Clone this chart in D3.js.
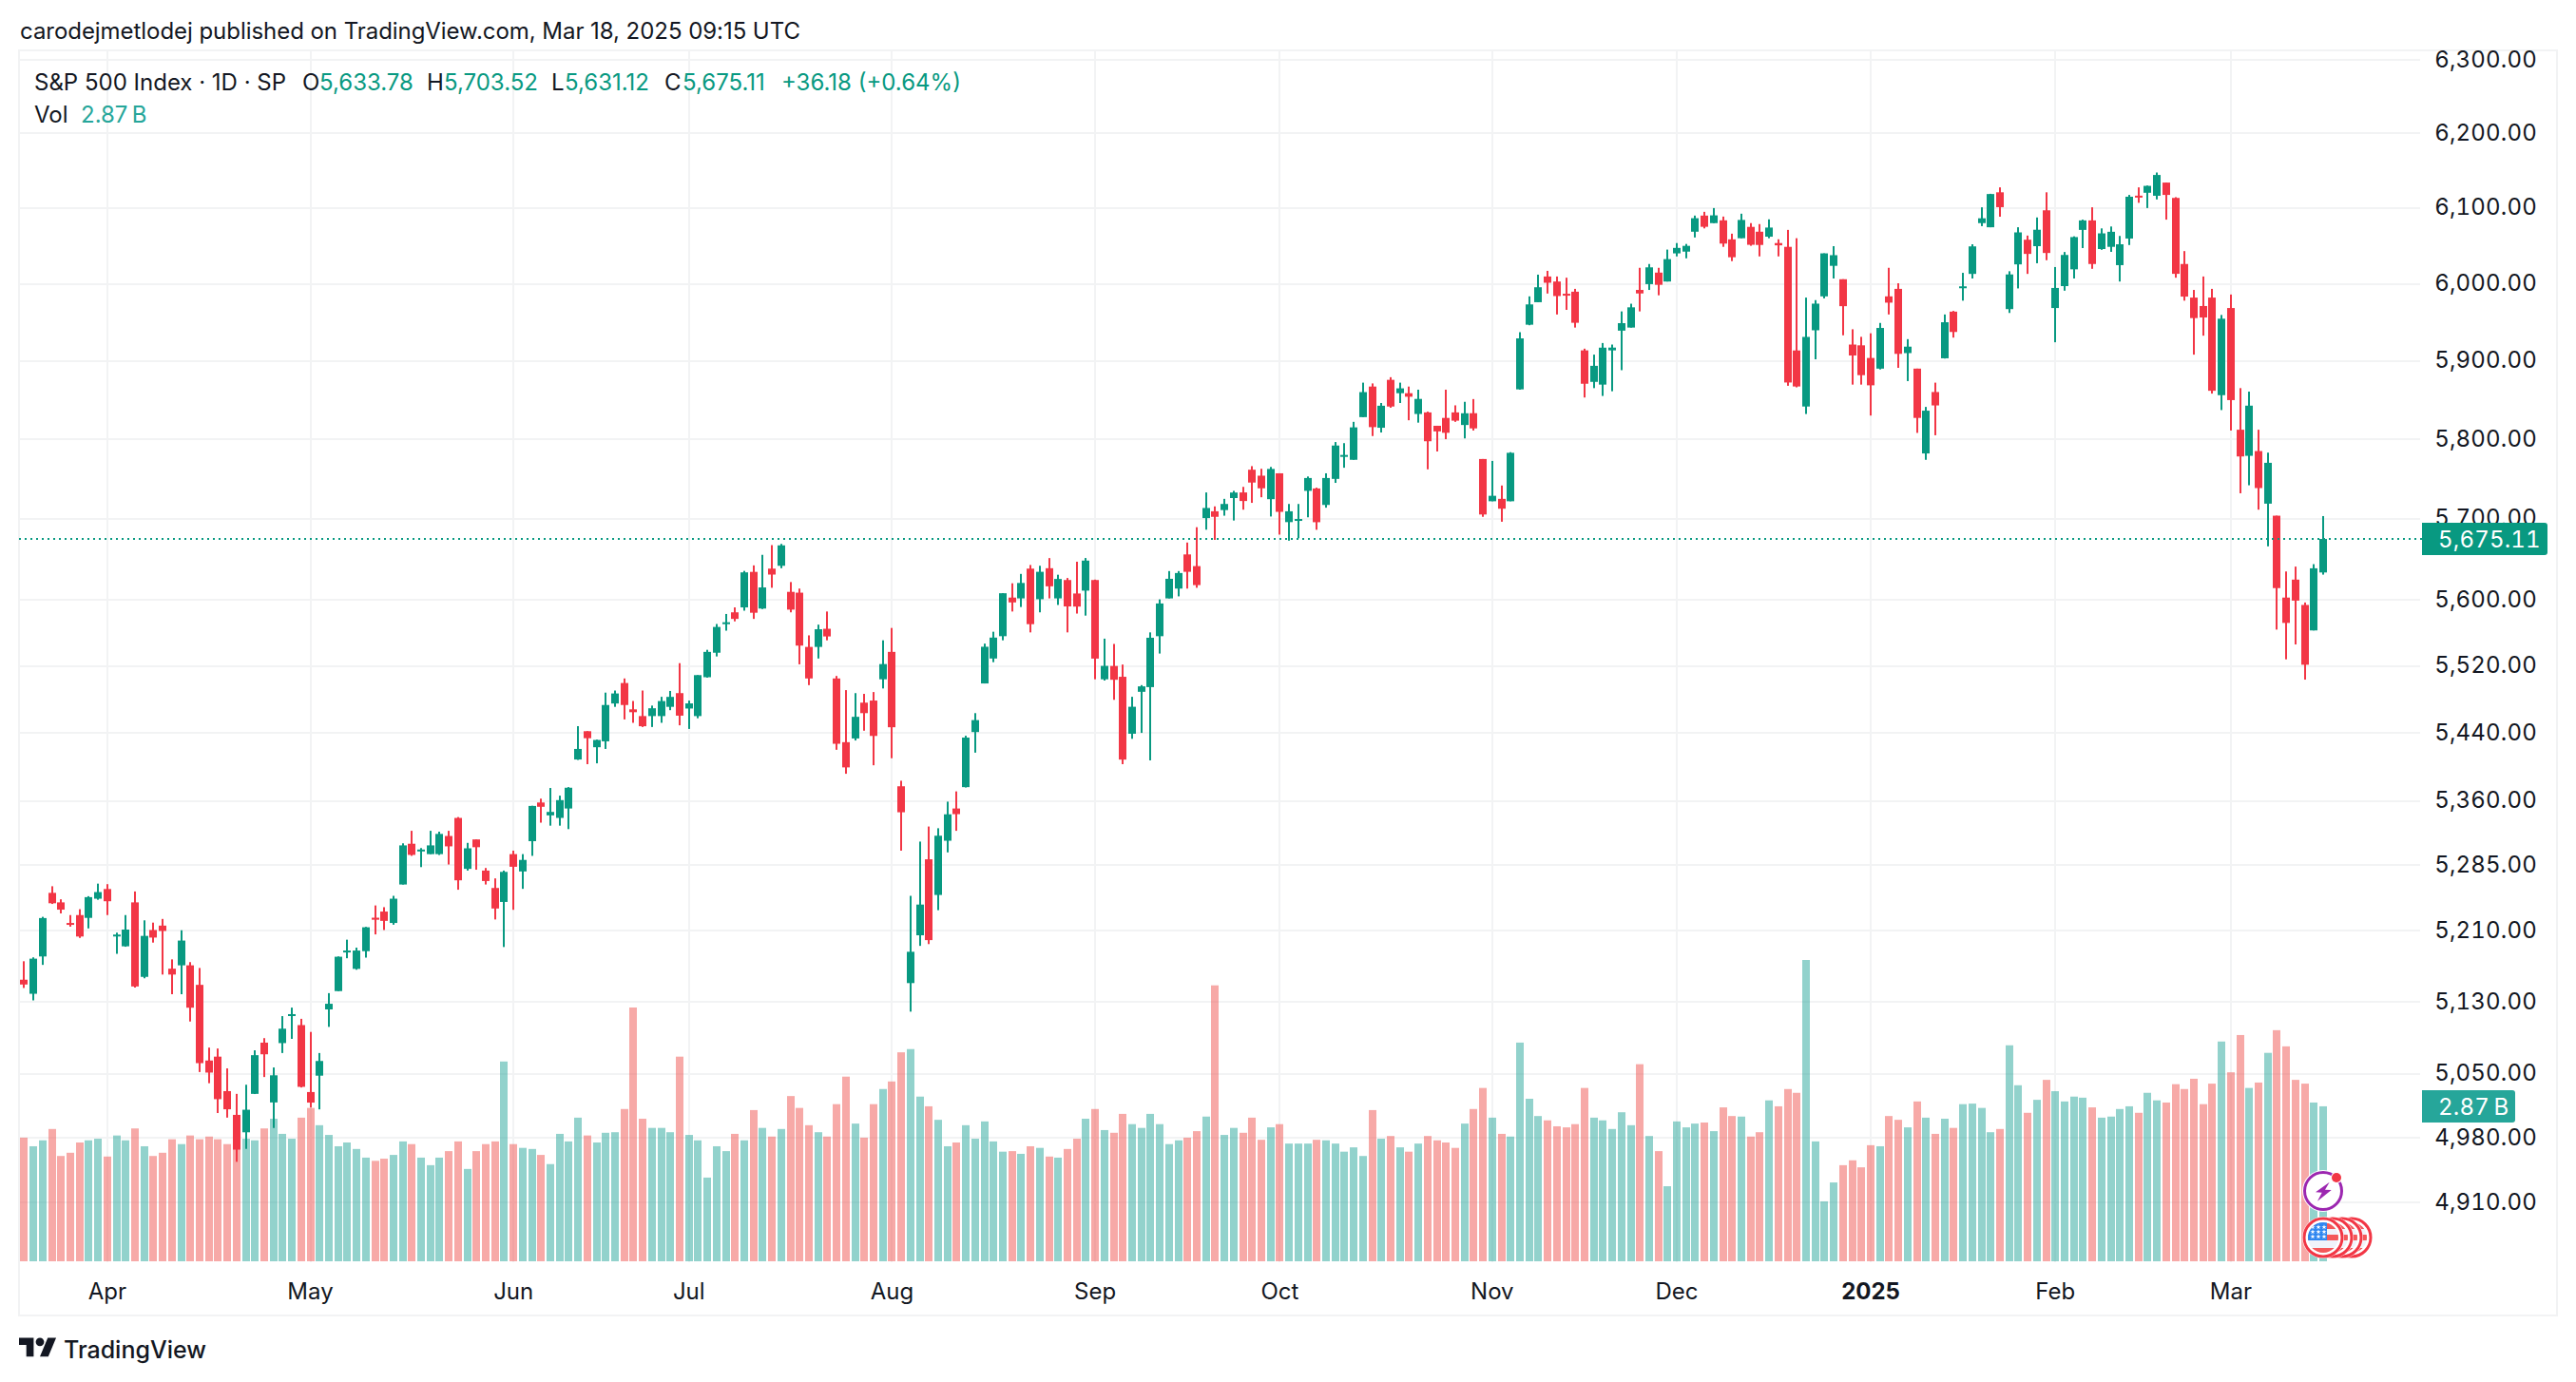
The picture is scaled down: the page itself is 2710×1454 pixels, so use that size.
<!DOCTYPE html>
<html>
<head>
<meta charset="utf-8">
<script src="https://d3js.org/d3.v7.min.js"></script>
<style>
html,body{margin:0;padding:0;background:#fff}
svg{display:block}
text{font-family:Inter,"Noto Sans",sans-serif}
.tnum{font-feature-settings:"tnum" 1;font-variant-numeric:tabular-nums}
</style>
</head>
<body>
<svg id="chart" width="2710" height="1454"></svg>
<script>
// daily candles, 18 Mar 2024 .. 17 Mar 2025
const opens = [5154.8,5139,5181,5253.4,5242.5,5219,5228,5224.8,5246.7,5257.8,5204.3,5192.5,5242.5,5158,5211,5216,5167.2,5171,5171,5149,5064.7,5069,5031,5005,4986,5028,5084.5,5018.6,5084,5115,5104,5030,5048,5121.5,5142,5187,5167,5187,5225,5232,5219,5263,5310,5302.5,5298,5298,5319,5340,5281,5315,5279,5259,5243,5298,5278,5313,5358,5343,5340,5351,5408.5,5442,5423,5430,5475,5499.5,5468,5460,5460,5460,5471,5487.4,5469,5460,5506.5,5536,5571.5,5585,5591,5634.5,5589.6,5638.5,5642,5610,5609,5543,5543,5565,5505,5429,5433.4,5476,5478.5,5504,5537,5377,5151,5205,5292,5251,5313.5,5351,5376,5441,5499,5529,5556,5603,5602,5638.5,5601,5639,5602,5624.5,5608,5611.5,5624.5,5504,5520,5507,5439,5489,5494.6,5556,5602,5614,5656,5641.6,5701,5709.5,5711,5726,5733,5761.5,5754,5724.6,5757,5696,5698,5735,5738,5717.4,5750,5778.5,5774,5828,5867,5814.5,5875.6,5858.5,5858.5,5832,5834,5817,5827,5834,5818,5833,5775,5722,5725,5722,5863.4,5946.7,5976,6009.6,6003,5987,5989.7,5913.5,5873,5869.5,5913.5,5939,5943,5992,5999.6,6014.7,6003,6040,6042.3,6068.6,6090,6080,6083.7,6058.5,6060,6075,6068.6,6062,6053.6,6048.6,5913.4,5841.5,5939.5,5983.6,6023.6,6006,5921,5920,5903.7,5890,5983.6,5993.4,5910,5890,5782,5860,5903.3,5963.7,5996,6013,6080,6074.5,6121,5967,6025.5,6058,6049.5,6097,5968.4,5997,6019,6071,6083.6,6045.7,6048.6,6024.5,6059.6,6116.5,6120.4,6116.4,6134,6113.5,6026,5982,5971,5982,5856,5968.4,5812,5779,5785,5719,5704,5603,5625,5594,5563,5633.78];
const highs = [5175.6,5180,5226,5261,5246,5228,5234.7,5249.6,5264,5263.4,5208,5228,5255,5222,5219.4,5223.6,5177.7,5210.7,5174.6,5168,5079,5078,5056,5028,5038,5076,5089.5,5057,5114,5123.5,5111,5096.4,5073,5139.7,5181,5200,5191,5214.5,5239,5237,5250,5310.5,5325,5305,5325,5324,5325,5341,5311,5315,5282,5270,5279,5302,5298,5354.2,5362.5,5375,5366,5376,5448,5442,5432,5488,5490.5,5505,5478,5490.5,5472.5,5483,5490,5523.4,5478.5,5509,5539.5,5570.8,5583,5591,5635.7,5642.5,5655.5,5667.5,5669,5622,5614,5557,5570,5586,5508,5491,5487.4,5486.5,5488.7,5551,5566,5383.5,5250,5312.5,5330,5328,5359,5371,5436.6,5463.5,5547,5561.4,5608.4,5620.5,5632,5643,5642,5651.5,5631,5627,5647,5651.6,5625,5553,5546.6,5521.7,5483,5497,5560.6,5600.8,5635.5,5635.5,5670.7,5689.7,5733,5715.6,5725,5735,5740,5766,5762.7,5765,5757,5718.6,5718.6,5753,5739,5757,5796.4,5795,5822,5872,5871,5846,5879,5872,5867,5863,5835,5817,5863,5843,5847.5,5851,5775,5772.6,5741.7,5783.6,5937,5983.6,6012,6017,6009.6,6008,5993.4,5915.7,5908,5923,5921,5964,5974,6021,6026,6021,6045,6053.6,6052.4,6090,6095,6100,6088.7,6066,6092.5,6080,6078.7,6085,6058.6,6071,6060,5982,5978.7,6040,6049.5,6006,5940.8,5931,5935.6,5949,6021,6000.7,5928,5890,5841,5872,5960,5964.6,6014.4,6052,6101,6119,6127.6,6016.5,6074.5,6063.5,6087.5,6121,6022,6041.8,6062.5,6084.6,6101,6073,6075.5,6063,6117.5,6127.6,6130,6147.5,6134,6114.5,6043,5992,6009.6,5993.4,5959.4,5986,5865,5860.5,5812,5783,5704,5635,5641,5597,5644,5703.52];
const lows = [5145.5,5131.6,5171.5,5240.7,5229.9,5214.8,5202,5212.8,5245.5,5228,5184,5192,5146,5156.4,5196.7,5160.6,5138.5,5138.5,5108,5052,5039.7,5007,5002,4954,4968,5027.8,5046.5,4990.7,5073,5088.7,5035,5013,5011,5102,5142,5179,5166,5179.7,5206,5211,5217,5263,5296,5283,5298,5297,5286,5257,5279,5280,5263,5223,5191.7,5234,5258,5296,5334.5,5331,5331,5327,5408,5403,5404,5421,5471,5456,5452,5447,5447,5452,5467,5449,5444.7,5457.4,5506,5531.5,5562.7,5574,5587,5577,5589,5615,5639,5585,5522,5497,5529,5551,5420,5391.7,5431,5442.6,5401.7,5493,5410,5302,5119,5193,5195,5233.6,5300,5325,5375.6,5416.6,5499,5524.6,5551,5586,5591.5,5560.6,5585,5602,5594,5560.6,5583.5,5581,5504,5502.5,5479.4,5403,5433,5440,5407.5,5535,5602,5604.5,5614,5615,5686.6,5674,5704,5698,5711.5,5720,5727,5703,5680.5,5673,5676,5702,5686.5,5714,5745,5764,5774,5828,5804,5808.5,5840,5846,5824,5821,5762,5784.5,5800,5822,5801,5811,5702.6,5722,5696.5,5722,5863,5946,5976,5987.3,5960,5966,5943,5853,5865,5855,5861,5888,5943,5964,5992,5985,6003,6036,6033.5,6061,6073,6080,6048.6,6029.8,6060,6050,6036,6060,6036,5868,5866,5832,5902,5981,6007,5933,5869.5,5869.5,5830,5889,5960,5891,5874,5808,5774,5805,5903,5930,5978,6007,6076,6074.5,6088.5,5962,5994,6013,6027,6031,5924,5991,6007,6047,6019.7,6044.7,6042,6003,6051,6107,6100,6111.5,6084.6,6008,5978,5908,5932.5,5858,5837,5811,5732,5742,5711.5,5666,5564,5528,5546,5503.6,5563,5631.12];
const closes = [5149.4,5178.5,5224.6,5241.5,5234.2,5218.2,5203.6,5248.5,5254.3,5243.8,5205.8,5211.5,5147.2,5204.3,5202.4,5209.9,5160.6,5199,5123.4,5061.8,5051.4,5022.2,5011.1,4967.2,5010.6,5070.6,5071.6,5048.4,5100,5116.2,5035.7,5018.4,5064.2,5127.8,5180.7,5187.7,5187.7,5214.1,5222.7,5221.4,5246.7,5308.1,5297.1,5303.3,5308.1,5321.4,5307,5267.8,5304.7,5306,5267,5235.5,5277.5,5283.4,5291.3,5354,5353,5347,5360.8,5375.3,5421,5433.7,5431.6,5473.2,5487,5473.2,5464.6,5447.9,5469.3,5477.9,5482.9,5460.5,5475.1,5509,5537,5567.2,5572.9,5577,5633.9,5584.5,5615.4,5631.2,5667.2,5588.3,5544.6,5505,5564.4,5555.7,5427.1,5399.2,5459.1,5463.5,5436.4,5522.3,5446.7,5346.6,5186.3,5240,5199.5,5319.3,5344.2,5344.4,5434.4,5455.2,5543.2,5554.3,5608.3,5597.1,5620.9,5570.6,5634.6,5616.8,5625.8,5592.2,5592,5648.4,5528.9,5520.1,5503.4,5408.4,5471.1,5495.5,5554.1,5595.8,5626,5633.1,5634.6,5618.3,5713.6,5702.6,5718.6,5732.9,5722.3,5745.4,5738.2,5762.5,5708.8,5709.5,5699.9,5751.1,5695.9,5751.1,5792,5780.1,5815,5859.9,5815.3,5842.5,5841.5,5864.7,5854,5851.2,5797.4,5809.9,5808.1,5823.5,5832.9,5813.7,5705.5,5728.8,5712.7,5782.8,5929,5973.1,5995.5,6001.4,5984,5985.4,5949.2,5870.6,5893.6,5917,5917.1,5948.7,5969.3,5987.4,6021.6,5998.7,6032.4,6047.2,6049.9,6086.5,6075.1,6090.3,6052.9,6034.9,6084.2,6051.3,6051.1,6074.1,6050.6,5872.2,5867.1,5930.9,5974.1,6040,6037.6,5970.8,5906.9,5881.6,5868.6,5942.5,5975.4,5909,5918.3,5827,5836.2,5842.9,5949.9,5937.3,5996.7,6049.2,6086.4,6118.7,6101.2,6012.3,6067.7,6039.3,6071.2,6040.5,5994.6,6037.9,6061.5,6083.6,6026,6066.4,6068.5,6052,6115.1,6114.6,6129.6,6144.2,6117.5,6013.1,5983.3,5955.3,5956.1,5861.6,5954.5,5849.7,5778.2,5842.6,5738.5,5770.2,5614.6,5572.1,5599.3,5521.5,5638.9,5675.11];
// volume in billions
const volumes = [2.29,2.13,2.24,2.45,1.95,2.01,2.20,2.24,2.27,1.94,2.33,2.24,2.46,2.13,1.95,2.01,2.26,2.17,2.33,2.26,2.31,2.26,2.17,2.28,2.27,2.24,2.46,2.64,2.36,2.27,2.66,2.84,2.52,2.34,2.13,2.20,2.08,1.92,1.86,1.90,1.97,2.22,2.17,1.92,1.78,1.92,2.04,2.22,1.71,2.04,2.17,2.22,3.70,2.17,2.10,2.08,1.97,1.80,2.36,2.22,2.66,2.33,2.20,2.38,2.39,2.82,4.70,2.64,2.47,2.47,2.39,3.79,2.34,2.24,1.55,2.13,2.04,2.36,2.24,2.80,2.47,2.31,2.45,3.06,2.84,2.52,2.39,2.31,2.91,3.42,2.55,2.29,2.91,3.19,3.33,3.87,3.93,3.05,2.87,2.62,2.13,2.20,2.52,2.27,2.59,2.22,2.03,2.04,1.99,2.13,2.10,1.94,1.92,2.08,2.27,2.64,2.82,2.43,2.38,2.73,2.54,2.47,2.73,2.54,2.17,2.24,2.29,2.41,2.68,5.11,2.34,2.47,2.38,2.66,2.25,2.48,2.54,2.18,2.18,2.18,2.25,2.24,2.18,2.03,2.11,1.95,2.80,2.27,2.32,2.11,2.03,2.18,2.32,2.24,2.20,2.10,2.55,2.82,3.21,2.66,2.36,2.31,4.05,3.01,2.69,2.61,2.50,2.48,2.54,3.21,2.66,2.61,2.45,2.76,2.52,3.65,2.32,2.04,1.39,2.59,2.48,2.55,2.57,2.41,2.85,2.69,2.68,2.31,2.39,2.98,2.87,3.19,3.12,5.58,2.22,1.11,1.46,1.78,1.87,1.74,2.15,2.13,2.69,2.62,2.48,2.96,2.66,2.36,2.64,2.47,2.91,2.92,2.84,2.39,2.45,4.00,3.26,2.75,2.99,3.36,3.15,2.96,3.05,3.03,2.85,2.66,2.68,2.82,2.87,2.75,3.12,2.98,2.94,3.28,3.19,3.38,2.91,3.29,4.07,3.50,4.19,3.21,3.31,3.86,4.28,3.98,3.36,3.29,2.94,2.87];

const monthLabels = ["Apr","May","Jun","Jul","Aug","Sep","Oct","Nov","Dec","2025","Feb","Mar"];
const monthIndex = [9,31,53,72,94,116,136,159,179,200,220,239];
const priceTicks = [6300,6200,6100,6000,5900,5800,5700,5600,5520,5440,5360,5285,5210,5130,5050,4980,4910];

const lastClose = 5675.11, lastVolume = 2.87;

const green = "#089981", red = "#F23645", gridColor = "#F2F3F4", ink = "#131722";
const paneL = 20, paneT = 53, paneR = 2546, paneB = 1328, frameR = 2690, frameB = 1384;

const x = d3.scaleLinear().domain([0, 249]).range([25.4, 2444]);
const y = d3.scaleLog().domain([6100, 5130]).range([218.9, 1054]);
const yVol = d3.scaleLinear().domain([0, 5.58]).range([1327, 1010]);
const fmtPrice = d3.format(",.2f");

const svg = d3.select("#chart");

// frame
svg.append("path")
	.attr("d", `M${paneL} ${paneT}H${frameR}V${frameB}H${paneL}Z`)
	.attr("fill", "none").attr("stroke", gridColor).attr("stroke-width", 2);

// grid
const grid = svg.append("g").attr("stroke", gridColor).attr("stroke-width", 2);
grid.selectAll(".h").data(priceTicks).join("line")
	.attr("x1", paneL).attr("x2", paneR)
	.attr("y1", d => Math.round(y(d))).attr("y2", d => Math.round(y(d)));
grid.selectAll(".v").data(monthIndex).join("line")
	.attr("x1", d => Math.round(x(d))).attr("x2", d => Math.round(x(d)))
	.attr("y1", paneT).attr("y2", paneB);

// volume bars
svg.append("g").selectAll("rect").data(volumes).join("rect")
	.attr("x", (d, i) => Math.round(x(i) - 4))
	.attr("width", 8)
	.attr("y", d => yVol(d))
	.attr("height", d => yVol(0) - yVol(d))
	.attr("fill", (d, i) => closes[i] >= opens[i] ? "rgba(38,166,154,.5)" : "rgba(239,83,80,.5)");

// candles
const candles = svg.append("g").selectAll("g").data(closes).join("g")
	.attr("fill", (d, i) => d >= opens[i] ? green : red);
candles.append("rect")
	.attr("x", (d, i) => Math.round(x(i)) - 1)
	.attr("width", 2)
	.attr("y", (d, i) => y(highs[i]))
	.attr("height", (d, i) => y(lows[i]) - y(highs[i]));
candles.append("rect")
	.attr("x", (d, i) => Math.round(x(i)) - 4)
	.attr("width", 8)
	.attr("y", (d, i) => y(Math.max(d, opens[i])))
	.attr("height", (d, i) => Math.max(2, Math.abs(y(d) - y(opens[i]))));

// last price line
svg.append("line")
	.attr("x1", paneL).attr("x2", paneR + 2)
	.attr("y1", y(lastClose)).attr("y2", y(lastClose))
	.attr("stroke", green).attr("stroke-width", 2).attr("stroke-dasharray", "2 4");

// price axis
svg.append("g").selectAll("text").data(priceTicks).join("text")
	.attr("class", "tnum")
	.attr("x", 2669).attr("y", d => y(d) - 1)
	.attr("text-anchor", "end").attr("dominant-baseline", "central")
	.attr("font-size", 24).attr("letter-spacing", 0.2).attr("fill", ink)
	.text(d => fmtPrice(d));

// time axis
svg.append("g").selectAll("text").data(monthLabels).join("text")
	.attr("x", (d, i) => x(monthIndex[i])).attr("y", 1358)
	.attr("text-anchor", "middle").attr("dominant-baseline", "central")
	.attr("font-size", 24).attr("fill", ink)
	.attr("font-weight", d => d == "2025" ? 700 : 400)
	.text(d => d);

// value tags
function tag(x0, x1, cy, h, color, label) {
	svg.append("path")
		.attr("d", `M${x0} ${cy - h / 2}H${x1 - 3}q3 0 3 3V${cy + h / 2 - 3}q0 3 -3 3H${x0}Z`)
		.attr("fill", color);
	svg.append("text").attr("class", "tnum").attr("x", 2565).attr("y", cy)
		.attr("dominant-baseline", "central").attr("font-size", 24).attr("letter-spacing", 0.2)
		.attr("fill", "#fff").text(label);
}
tag(2548, 2680, y(lastClose), 34, green, fmtPrice(lastClose));
tag(2548, 2646, 1164, 34, "#26A69A", lastVolume + "\u2009B");

// purple news badge
const badge = svg.append("g").attr("transform", "translate(2444,1253)");
badge.append("circle").attr("r", 22).attr("fill", "#fff");
badge.append("circle").attr("r", 19.5).attr("fill", "#fff").attr("stroke", "#9C27B0").attr("stroke-width", 3);
badge.append("path").attr("d", "M6.7 -9.3L-8 1.3L-1.3 1.7L-6 10.7L8.7 -1L2 -1.3Z").attr("fill", "#9C27B0");
badge.append("circle").attr("cx", 14).attr("cy", -14).attr("r", 6).attr("fill", "#fff");
badge.append("circle").attr("cx", 14).attr("cy", -14).attr("r", 5).attr("fill", red);

// US flag event coins, drawn from the back to the front
const coinCenters = [2474, 2464, 2454, 2444];
const stripeTops = [-15, -3, 11];
const defs = svg.append("defs");
defs.append("clipPath").attr("id", "coinClip").append("circle").attr("r", 16);
coinCenters.forEach(cx => {
	const coin = svg.append("g").attr("transform", `translate(${cx},1302)`);
	coin.append("circle").attr("r", 22).attr("fill", "#fff");
	coin.append("circle").attr("r", 20).attr("fill", "#fff").attr("stroke", red).attr("stroke-width", 3);
	const inner = coin.append("g").attr("clip-path", "url(#coinClip)");
	inner.append("rect").attr("x", -16).attr("y", -16).attr("width", 32).attr("height", 32).attr("fill", "#F0F3FA");
	stripeTops.forEach(t => {
		inner.append("rect").attr("x", -16).attr("y", t).attr("width", 32).attr("height", 6).attr("fill", "#F4585A");
	});
	inner.append("rect").attr("x", -16).attr("y", -16).attr("width", 20).attr("height", 19).attr("fill", "#2E86F0");
	[-11, -6, -1].forEach(sy => {
		[-11, -5, 1].forEach(sx => {
			inner.append("path").attr("transform", `translate(${sx},${sy})`)
				.attr("d", d3.symbol(d3.symbolStar, 9)()).attr("fill", "#fff");
		});
	});
});

// header text
svg.append("text").attr("x", 21).attr("y", 32)
	.attr("dominant-baseline", "central").attr("font-size", 24).attr("letter-spacing", -0.05).attr("fill", ink)
	.text("carodejmetlodej published on TradingView.com, Mar 18, 2025 09:15 UTC");

const legendText = ["S&P 500 Index \u00B7 1D \u00B7 SP", "O", "5,633.78", "H", "5,703.52", "L", "5,631.12", "C", "5,675.11", "+36.18 (+0.64%)"];
const legendX = [36, 318, 336, 449, 467, 580, 594, 699, 718, 822];
const legendColor = [ink, ink, green, ink, green, ink, green, ink, green, green];
svg.append("g").selectAll("text").data(legendText).join("text")
	.attr("x", (d, i) => legendX[i]).attr("y", 86)
	.attr("dominant-baseline", "central").attr("font-size", 24)
	.attr("fill", (d, i) => legendColor[i]).text(d => d);
svg.append("text").attr("x", 36).attr("y", 120)
	.attr("dominant-baseline", "central").attr("font-size", 24).attr("fill", ink).text("Vol");
svg.append("text").attr("x", 85).attr("y", 120)
	.attr("dominant-baseline", "central").attr("font-size", 24).attr("fill", "#26A69A").text(lastVolume + "\u2009B");

// logo
const logo = svg.append("g").attr("transform", "translate(20,1403) scale(1.1)").attr("fill", ink);
logo.append("path").attr("d", "M14 22H7V11H0V4h14v18zM28 22h-8l7.5-18h8L28 22z");
logo.append("circle").attr("cx", 20).attr("cy", 8).attr("r", 4);
svg.append("text").attr("x", 67).attr("y", 1420)
	.attr("dominant-baseline", "central").attr("font-size", 25).attr("font-weight", 500).attr("fill", ink)
	.text("TradingView");
</script>
</body>
</html>
